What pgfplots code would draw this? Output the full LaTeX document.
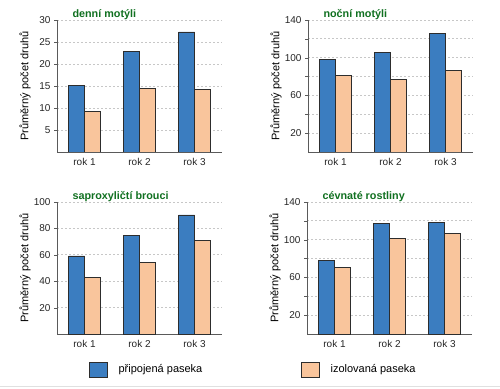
\documentclass[border=0pt]{standalone}
\usepackage{fontspec}
\setmainfont{Liberation Sans}
\usepackage{pgfplots}
\pgfplotsset{compat=1.18}
\definecolor{cblue}{RGB}{59,125,192}
\definecolor{corange}{RGB}{249,197,156}
\definecolor{cgreen}{RGB}{16,112,32}
\definecolor{cedge}{RGB}{45,45,45}
\definecolor{caxis}{RGB}{90,90,90}
\pgfplotsset{
  every axis title shift=0pt,
  panel/.style={
    scale only axis, width=165pt, height=132pt, anchor=south west,
    ybar=0pt, bar width=16pt,
    xmin=-0.5, xmax=2.5, ymin=0,
    xtick={0,1,2}, xticklabels={rok 1,rok 2,rok 3},
    major x tick style={draw=none},
    extra x ticks={-0.5,0.5,1.5,2.5}, extra x tick labels={},
    extra x tick style={major tick length=3pt, tick style={draw=caxis}, grid=none},
    axis x line*=bottom, axis y line*=left,
    axis line style={draw=caxis, -},
    tick align=outside, major tick length=3pt,
    ytick style={draw=caxis},
    ymajorgrids,
    grid style={draw=black!22, line width=0.8pt, dash pattern=on 2pt off 2pt},
    /pgf/number format/assume math mode=true,
    ticklabel style={font=\fontsize{10}{12}\selectfont, text=black!85},
    ylabel={Průměrný počet druhů},
    ylabel style={at={(axis description cs:-0.194,0.5)}, anchor=center, font=\fontsize{11}{12}\selectfont},
    title style={at={(axis description cs:0,1)}, anchor=base west, xshift=12pt, yshift=2.5pt,
      font=\fontsize{10.8}{12}\selectfont\bfseries, text=cgreen},
    legend style={draw=none, fill=none, inner sep=0pt, outer sep=0pt,
      nodes={inner sep=0pt}, font=\fontsize{11}{13}\selectfont},
  },
  bblue/.style={fill=cblue, draw=cedge, line width=0.6pt, bar shift=-8pt,
    legend image code/.code={\draw[fill=cblue, draw=cedge, line width=0.6pt] (0pt,-7.5pt) rectangle (18pt,7.5pt); \path (29pt,0pt);}},
  borange/.style={fill=corange, draw=cedge, line width=0.6pt, bar shift=8pt,
    legend image code/.code={\draw[fill=corange, draw=cedge, line width=0.6pt] (0pt,-7.5pt) rectangle (18pt,7.5pt); \path (29pt,0pt);}},
}
\begin{document}
\begin{tikzpicture}
\path[use as bounding box] (0,0) rectangle (500pt,388pt);
\draw[black!12, line width=0.8pt] (0,2pt) -- (500pt,2pt);
% top-left
\begin{axis}[panel, at={(57pt,236pt)}, ymax=30, ytick={5,10,...,30}, title={denní motýli}]
\addplot[bblue] coordinates {(0,15.1) (1,22.9) (2,27.3)};
\addplot[borange] coordinates {(0,9.3) (1,14.5) (2,14.3)};
\end{axis}
% top-right
\begin{axis}[panel, at={(308pt,236pt)}, ymax=140, ytick={20,40,...,140}, yticklabels={20,,60,,100,,140}, title={noční motýli}]
\addplot[bblue] coordinates {(0,98.3) (1,105.3) (2,126.2)};
\addplot[borange] coordinates {(0,81.3) (1,77) (2,86.2)};
\end{axis}
% bottom-left
\begin{axis}[panel, at={(57pt,54pt)}, ymax=100, ytick={20,40,...,100}, title={saproxyličtí brouci},
  legend style={at={(axis description cs:0,0)}, anchor=west, xshift=32pt, yshift=-35.5pt}]
\addplot[bblue] coordinates {(0,59.1) (1,75) (2,90.2)};
\addlegendentry{připojená paseka}
\addplot[borange, forget plot] coordinates {(0,42.7) (1,54) (2,71)};
\end{axis}
% bottom-right
\begin{axis}[panel, at={(307pt,54pt)}, ymax=140, ytick={20,40,...,140}, yticklabels={20,,60,,100,,140}, title={cévnaté rostliny},
  legend style={at={(axis description cs:0,0)}, anchor=west, xshift=-6pt, yshift=-35.5pt}]
\addplot[bblue, forget plot] coordinates {(0,78.1) (1,117) (2,118)};
\addplot[borange] coordinates {(0,70.4) (1,101.4) (2,107)};
\addlegendentry{izolovaná paseka}
\end{axis}
\end{tikzpicture}
\end{document}
